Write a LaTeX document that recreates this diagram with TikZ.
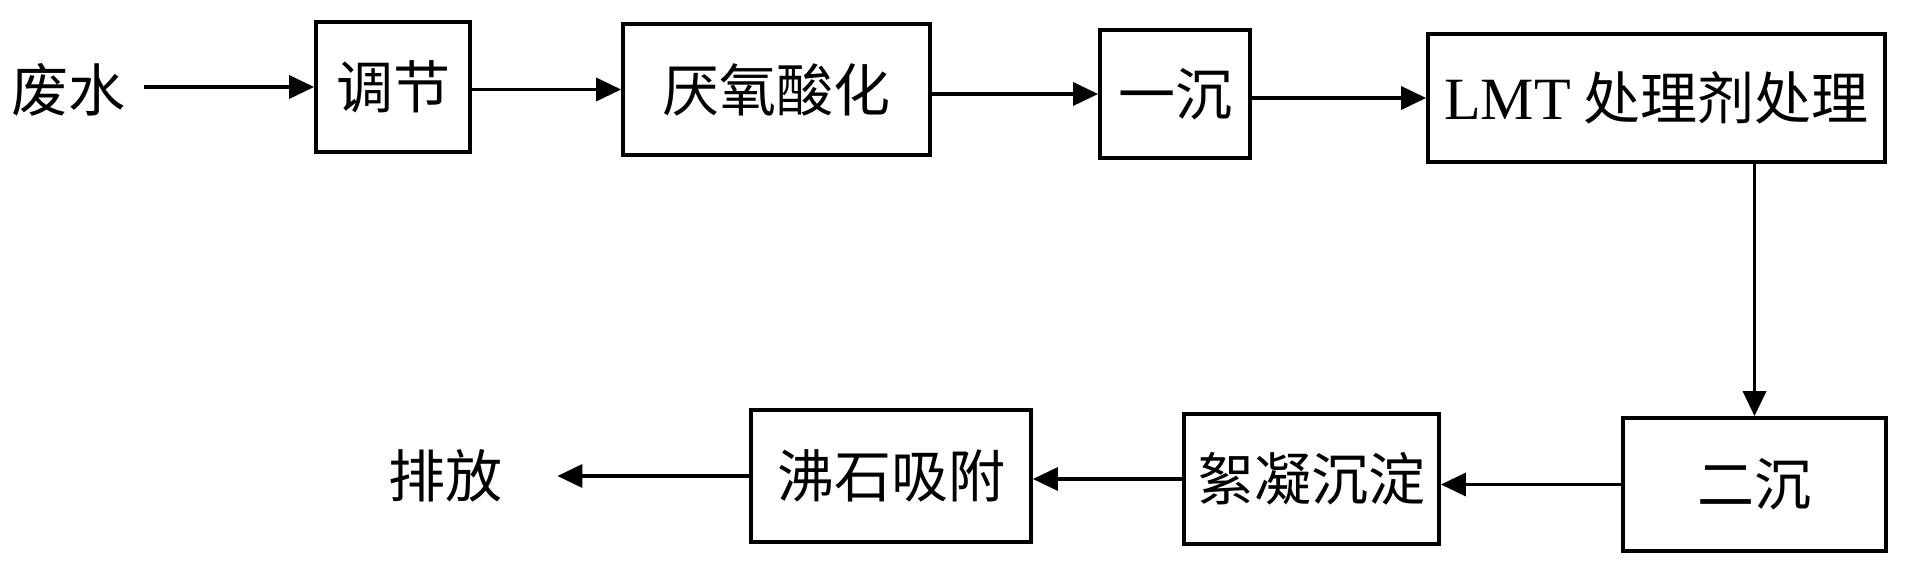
\documentclass[tikz,border=0pt]{standalone}
\usepackage{fontspec}
\setmainfont{Liberation Serif}
\newfontfamily\cjk{Noto Sans CJK SC}
\usetikzlibrary{arrows.meta}
\begin{document}
\begin{tikzpicture}[x=0.5pt,y=-0.5pt,
  box/.style={draw,line width=1.9pt,inner sep=0pt,font=\cjk\fontsize{28.5pt}{32pt}\selectfont},
  lbl/.style={inner sep=0pt,font=\cjk\fontsize{28.5pt}{32pt}\selectfont},
  arr/.style={line width=1.8pt,-{Triangle[length=12.5pt,width=11.5pt]}}]
\useasboundingbox (0,0) rectangle (1920,582);
\node[lbl] (fs) at (68,90) {废水};
\node[box,minimum width=77pt,minimum height=65pt] (tj) at (393,87) {调节};
\node[box,minimum width=153.5pt,minimum height=65.5pt] (yy) at (776.5,89.5) {厌氧酸化};
\node[box,minimum width=75pt,minimum height=64pt] (yc) at (1175,94) {一沉};
\node[box,minimum width=228.5pt,minimum height=64pt] (lmt) at (1656.5,98) {{\rmfamily\fontsize{30pt}{32pt}\selectfont LMT} 处理剂处理};
\node[box,minimum width=131.5pt,minimum height=66.5pt] (ec) at (1754.5,484.5) {二沉};
\node[box,minimum width=127.5pt,minimum height=65pt] (xn) at (1311.5,479) {絮凝沉淀};
\node[box,minimum width=140pt,minimum height=66pt] (fsx) at (891,476) {沸石吸附};
\node[lbl] (pf) at (445,476) {排放};
\draw[arr,shorten <=9.5pt] (fs.east |- tj.west) -- (tj.west);
\draw[arr] (tj.east |- yy.west) -- (yy.west);
\draw[arr] (yy.east |- yc.west) -- (yc.west);
\draw[arr] (yc.east |- lmt.west) -- (lmt.west);
\draw[arr] (ec.north |- lmt.south) -- (ec.north);
\draw[arr] (ec.west) -- (xn.east |- ec.west);
\draw[arr] (xn.west) -- (fsx.east |- xn.west);
\draw[arr,shorten >=27.5pt] (fsx.west) -- (pf.east |- fsx.west);
\end{tikzpicture}
\end{document}
